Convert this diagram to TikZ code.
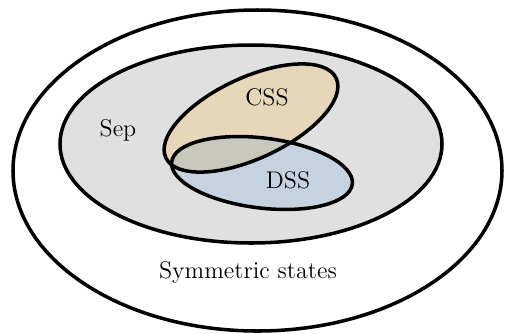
\documentclass[tikz,border=0pt]{standalone}
\usepackage{tikz}
\usetikzlibrary{shapes,backgrounds}
\definecolor{sepgray}{RGB}{224,224,224}
\definecolor{csstan}{RGB}{230,214,186}
\definecolor{dssblue}{RGB}{197,210,224}
\definecolor{bothgray}{RGB}{200,200,190}
\tikzstyle{setline} = [draw, line width=2pt, color=black]
\tikzstyle{setlabel} = [text centered, font=\fontsize{13.7}{16}\selectfont]
\newcommand{\cssset}{(5.02,-2.36) ellipse [x radius=1.88cm, y radius=0.81cm, rotate=25]}
\newcommand{\dssset}{(5.24,-3.46) ellipse [x radius=1.82cm, y radius=0.70cm, rotate=-7]}
\begin{document}
\begin{tikzpicture}
\useasboundingbox (0,0) rectangle (10.1,-6.66);
% outer and Sep
\path [setline] (5.15,-3.41) ellipse [x radius=4.89cm, y radius=3.21cm];
\path [setline, fill=sepgray] (5.02,-2.88) ellipse [x radius=3.82cm, y radius=1.98cm];
% CSS and DSS
\path [fill=csstan] \cssset;
\path [fill=dssblue] \dssset;
\begin{scope}
\clip \cssset;
\path [fill=bothgray] \dssset;
\end{scope}
\path [setline] \cssset;
\path [setline] \dssset;
% labels
\path (5.34,-1.94) node (lcss) [setlabel] {CSS};
\path (5.76,-3.60) node (ldss) [setlabel] {DSS};
\path (2.36,-2.60) node (lsep) [setlabel] {Sep};
\path (4.96,-5.44) node (lsym) [setlabel] {Symmetric states};
\end{tikzpicture}
\end{document}
